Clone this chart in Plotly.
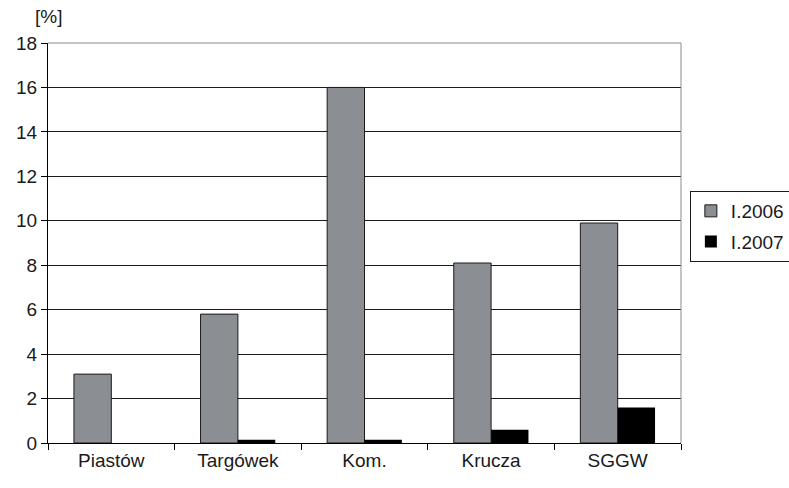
import plotly.graph_objects as go

stations = ["Piastów", "Targówek", "Kom.", "Krucza", "SGGW"]
share_2006 = [3.1, 5.8, 16.0, 8.1, 9.9]
share_2007 = [0.0, 0.15, 0.15, 0.6, 1.6]

font = dict(family="Liberation Sans, Arial, sans-serif", size=19, color="#1a1a1a")

fig = go.Figure()
fig.add_trace(go.Bar(
    x=stations, y=share_2006, name="I.2006", legendgroup="a",
    marker=dict(color="#8b8e92", line=dict(color="#1a1a1a", width=1)),
))
fig.add_trace(go.Bar(
    x=stations, y=share_2007, name="I.2007", legendgroup="b",
    marker=dict(color="#000000", line=dict(width=0)),
))

fig.update_layout(
    width=789, height=488,
    margin=dict(l=48, r=108, t=43, b=45, autoexpand=False),
    plot_bgcolor="white", paper_bgcolor="white",
    font=font,
    barmode="group", bargap=0.41, bargroupgap=0.0,
    showlegend=True,
    legend=dict(
        x=1.014, y=0.63, xanchor="left", yanchor="top",
        bordercolor="#1a1a1a", borderwidth=1,
        font=dict(size=19), itemwidth=30,
        traceorder="grouped", tracegroupgap=3,
        bgcolor="white",
    ),
    xaxis=dict(
        showline=True, linecolor="#000000", linewidth=1,
        ticks="outside", ticklen=6, tickcolor="#000000",
        tickson="boundaries", showgrid=False,
        tickfont=dict(size=19),
    ),
    yaxis=dict(
        range=[0, 18], dtick=2, tick0=0,
        showline=True, linecolor="#000000", linewidth=1,
        ticks="outside", ticklen=6, tickcolor="#000000",
        showgrid=True, gridcolor="#1a1a1a", gridwidth=1,
        zeroline=False, tickfont=dict(size=19),
    ),
    shapes=[
        dict(type="line", xref="paper", yref="paper", x0=1, x1=1, y0=0, y1=1,
             line=dict(color="#8a8a8a", width=1)),
        dict(type="line", xref="paper", yref="paper", x0=0, x1=1, y0=1, y1=1,
             line=dict(color="#8a8a8a", width=1)),
    ],
    annotations=[
        dict(text="[%]", xref="paper", yref="paper", x=0.0, y=1.035,
             xanchor="center", yanchor="bottom", showarrow=False, font=dict(size=19)),
    ],
)

fig.write_html("out.html")
